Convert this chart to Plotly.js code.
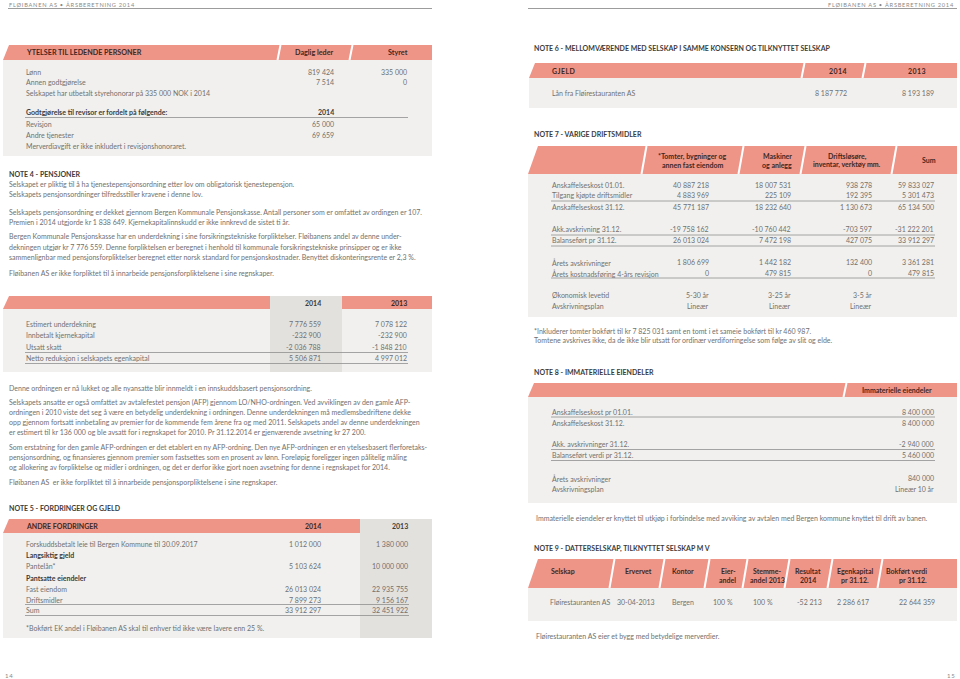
<!DOCTYPE html>
<html><head><meta charset="utf-8">
<script src="https://cdn.plot.ly/plotly-3.0.1.min.js"></script>
<style>html,body{margin:0;padding:0;background:#fff}#chart{width:960px;height:679px}</style>
</head><body><div id="chart"></div>
<script>
// ---------------- DATA ----------------
const pageHeader = "FLØIBANEN AS • ÅRSBERETNING 2014";

const ytelserHeader = ["YTELSER TIL LEDENDE PERSONER", "Daglig leder", "Styret"];
const ytelserRows = ["Lønn", "Annen godtgjørelse"];
const dagligLeder = [819424, 7514];
const styret = [335000, 0];
const ytelserNote = "Selskapet har utbetalt styrehonorar på 335 000 NOK i 2014";
const revisorHeader = ["Godtgjørelse til revisor er fordelt på følgende:", "2014"];
const revisorRows = ["Revisjon", "Andre tjenester"];
const revisor2014 = [65000, 69659];
const revisorNote = "Merverdiavgift er ikke inkludert i revisjonshonoraret.";

const note4Title = "NOTE 4 - PENSJONER";
const note4Lines = [
  ["Selskapet er pliktig til å ha tjenestepensjonsordning etter lov om obligatorisk tjenestepensjon.",
   "Selskapets pensjonsordninger tilfredsstiller kravene i denne lov."],
  ["Selskapets pensjonsordning er dekket gjennom Bergen Kommunale Pensjonskasse. Antall personer som er omfattet av ordingen er 107.",
   "Premien i 2014 utgjorde kr 1 838 649. Kjernekapitalinnskudd er ikke innkrevd de sistet ti år."],
  ["Bergen Kommunale Pensjonskasse har en underdekning i sine forsikringstekniske forpliktelser. Fløibanens andel av denne under-",
   "dekningen utgjør kr 7 776 559. Denne forpliktelsen er beregnet i henhold til kommunale forsikringstekniske prinsipper og er ikke",
   "sammenlignbar med pensjonsforpliktelser beregnet etter norsk standard for pensjonskostnader. Benyttet diskonteringsrente er 2,3 %."],
  ["Fløibanen AS er ikke forpliktet til å innarbeide pensjonsforpliktelsene i sine regnskaper."]
];

const pensjonYears = ["2014", "2013"];
const pensjonRows = ["Estimert underdekning", "Innbetalt kjernekapital", "Utsatt skatt", "Netto reduksjon i selskapets egenkapital"];
const pensjon2014 = [7776559, -232900, -2036788, 5506871];
const pensjon2013 = [7078122, -232900, -1848210, 4997012];

const afpLines = [
  ["Denne ordningen er nå lukket og alle nyansatte blir innmeldt i en innskuddsbasert pensjonsordning."],
  ["Selskapets ansatte er også omfattet av avtalefestet pensjon (AFP) gjennom LO/NHO-ordningen. Ved avviklingen av den gamle AFP-",
   "ordningen i 2010 viste det seg å være en betydelig underdekning i ordningen. Denne underdekningen må medlemsbedriftene dekke",
   "opp gjennom fortsatt innbetaling av premier for de kommende fem årene fra og med 2011. Selskapets andel av denne underdekningen",
   "er estimert til kr 136 000 og ble avsatt for i regnskapet for 2010. Pr 31.12.2014 er gjenværende avsetning kr 27 200."],
  ["Som erstatning for den gamle AFP-ordningen er det etablert en ny AFP-ordning. Den nye AFP-ordningen er en ytelsesbasert flerforetaks-",
   "pensjonsordning, og finansieres gjennom premier som fastsettes som en prosent av lønn. Foreløpig foreligger ingen pålitelig måling",
   "og allokering av forpliktelse og midler i ordningen, og det er derfor ikke gjort noen avsetning for denne i regnskapet for 2014."],
  ["Fløibanen AS  er ikke forpliktet til å innarbeide pensjonsporpliktelsene i sine regnskaper."]
];

const note5Title = "NOTE 5 - FORDRINGER OG GJELD";
const fordringHeader = ["ANDRE FORDRINGER", "2014", "2013"];
const fordringRows = ["Forskuddsbetalt leie til Bergen Kommune til 30.09.2017", "Langsiktig gjeld", "Pantelån*", "Pantsatte eiendeler", "Fast eiendom", "Driftsmidler", "Sum"];
const fordringBold = [false, true, false, true, false, false, false];
const fordring2014 = [1012000, null, 5103624, null, 26013024, 7899273, 33912297];
const fordring2013 = [1380000, null, 10000000, null, 22935755, 9156167, 32451922];
const fordringNote = "*Bokført EK andel i Fløibanen AS skal til enhver tid ikke være lavere enn 25 %.";

const note6Title = "NOTE 6 - MELLOMVÆRENDE MED SELSKAP I SAMME KONSERN OG TILKNYTTET SELSKAP";
const gjeldHeader = ["GJELD", "2014", "2013"];
const gjeldRows = ["Lån fra Fløirestauranten AS"];
const gjeld2014 = [8187772];
const gjeld2013 = [8193189];

const note7Title = "NOTE 7 - VARIGE DRIFTSMIDLER";
const driftsHeader = [["*Tomter, bygninger og", "annen fast eiendom"], ["Maskiner", "og anlegg"], ["Driftsløsøre,", "inventar, verktøy mm."], ["Sum"]];
const driftsRows = ["Anskaffelseskost 01.01.", "Tilgang kjøpte driftsmidler", "Anskaffelseskost 31.12.", "Akk.avskrivning 31.12.", "Balanseført pr 31.12.", "Årets avskrivninger", "Årets kostnadsføring 4-års revisjon"];
const tomter   = [40887218, 4883969, 45771187, -19758162, 26013024, 1806699, 0];
const maskiner = [18007531, 225109, 18232640, -10760442, 7472198, 1442182, 479815];
const inventar = [938278, 192395, 1130673, -703597, 427075, 132400, 0];
const driftsSum = [59833027, 5301473, 65134500, -31222201, 33912297, 3361281, 479815];
const levetidRows = ["Økonomisk levetid", "Avskrivningsplan"];
const levetid = ["5-30 år", "3-25 år", "3-5 år"];
const plan = ["Lineær", "Lineær", "Lineær"];
const note7Foot = ["*Inkluderer tomter bokført til kr 7 825 031 samt en tomt i et sameie bokført til kr 460 987.",
  "Tomtene avskrives ikke, da de ikke blir utsatt for ordinær verdiforringelse som følge av slit og elde."];

const note8Title = "NOTE 8 - IMMATERIELLE EIENDELER";
const immHeader = "Immaterielle eiendeler";
const immRows = ["Anskaffelseskost pr 01.01.", "Anskaffelseskost 31.12.", "Akk. avskrivninger 31.12.", "Balanseført verdi pr 31.12.", "Årets avskrivninger"];
const immValues = [8400000, 8400000, -2940000, 5460000, 840000];
const immPlanLabel = "Avskrivningsplan";
const immPlan = "Lineær 10 år";
const note8Foot = "Immaterielle eiendeler er knyttet til utkjøp i forbindelse med avviking av avtalen med Bergen kommune knyttet til drift av banen.";

const note9Title = "NOTE 9 - DATTERSELSKAP, TILKNYTTET SELSKAP M V";
const note9Header = [["Selskap"], ["Ervervet"], ["Kontor"], ["Eier-", "andel"], ["Stemme-", "andel 2013"], ["Resultat", "2014"], ["Egenkapital", "pr 31.12."], ["Bokført verdi", "pr 31.12."]];
const selskap = "Fløirestauranten AS";
const ervervet = "30-04-2013";
const kontor = "Bergen";
const eierandel = 100;
const stemmeandel = 100;
const resultat2014 = -52213;
const egenkapital = 2286617;
const bokfortVerdi = 22644359;
const note9Foot = "Fløirestauranten AS eier et bygg med betydelige merverdier.";
const pageNumbers = ["14", "15"];

// ---------------- RENDERING ----------------
const FONT = 'Lato, "Open Sans", sans-serif';
const C_TEXT = '#707070', C_DARK = '#3c3c3c', C_HEAD = '#3e2824';
const SALMON = '#EF9587', BODY = '#F1F0EE', COLG = '#E3E1DE', LINE = '#8f8f8f';
const FS = 7.0;

const shapes = [], ann = [];
function fmt(n) {
  if (n === null || n === undefined) return '';
  const s = Math.abs(n).toString().replace(/\B(?=(\d{3})+(?!\d))/g, ' ');
  return (n < 0 ? '-' : '') + s;
}
function t(x, y, text, o) {
  o = o || {};
  ann.push({x: x, y: y, xref: 'x', yref: 'y', text: o.b ? '<b>' + text + '</b>' : text, showarrow: false,
    xanchor: o.a || 'left', yanchor: 'middle', align: o.a || 'left', borderpad: 0,
    font: {family: FONT, size: o.s || FS, color: o.c || C_TEXT}});
}
function spaced(s, sp) { return s.split('').join(sp || '\u2009'); }
function rect(x0, y0, x1, y1, c) {
  shapes.push({type: 'rect', xref: 'x', yref: 'y', x0: x0, y0: y0, x1: x1, y1: y1, fillcolor: c, line: {width: 0}, layer: 'below'});
}
function band(x0, x1, y0, y1, sl) {
  shapes.push({type: 'path', xref: 'x', yref: 'y', path: `M ${x0} ${y1} L ${x0 + sl} ${y0} L ${x1} ${y0} L ${x1} ${y1} Z`, fillcolor: SALMON, line: {width: 0}, layer: 'below'});
}
function sep(xm, y0, y1, sl) {
  shapes.push({type: 'line', xref: 'x', yref: 'y', x0: xm - sl / 2, y0: y1, x1: xm + sl / 2, y1: y0, line: {color: '#ffffff', width: 2}, layer: 'below'});
}
function hline(x0, x1, y) {
  shapes.push({type: 'line', xref: 'x', yref: 'y', x0: x0, y0: y, x1: x1, y1: y, line: {color: LINE, width: 0.8}, layer: 'below'});
}

// page headers
t(8, 4, spaced(pageHeader), {s: 5.7, c: '#8a8a8a'});
t(955, 4, spaced(pageHeader), {s: 5.7, c: '#8a8a8a', a: 'right'});
shapes.push({type: 'line', xref: 'x', yref: 'y', x0: 8, y0: 8.5, x1: 432, y1: 8.5, line: {color: '#9c9c9c', width: 1}});
shapes.push({type: 'line', xref: 'x', yref: 'y', x0: 528, y0: 8.5, x1: 957, y1: 8.5, line: {color: '#9c9c9c', width: 1}});

// ---- Ytelser table
band(3, 432, 45, 60, 6);
sep(279, 45, 60, 3); sep(351, 45, 60, 3);
rect(3, 60, 432, 156, BODY);
t(25, 52.5, ytelserHeader[0], {b: 1, c: C_HEAD, s: 7.2});
t(314, 52.5, ytelserHeader[1], {b: 1, c: C_HEAD, s: 7.2, a: 'center'});
t(398, 52.5, ytelserHeader[2], {b: 1, c: C_HEAD, s: 7.2, a: 'center'});
const yRowsY = [72, 82];
ytelserRows.forEach((r, i) => {
  t(25, yRowsY[i], r);
  t(335, yRowsY[i], fmt(dagligLeder[i]), {a: 'right'});
  t(408, yRowsY[i], fmt(styret[i]), {a: 'right'});
});
t(25, 93, ytelserNote);
t(25, 112, revisorHeader[0], {b: 1, c: C_DARK});
t(335, 112, revisorHeader[1], {b: 1, c: C_DARK, a: 'right'});
hline(25, 408, 117.5);
const revY = [124, 135];
revisorRows.forEach((r, i) => { t(25, revY[i], r); t(335, revY[i], fmt(revisor2014[i]), {a: 'right'}); });
t(25, 146, revisorNote);

// ---- Note 4
t(8, 174, note4Title, {b: 1, c: C_DARK});
const n4Y = [[184, 194], [212, 222], [236, 246.5, 257], [273]];
note4Lines.forEach((p, i) => p.forEach((l, j) => t(8, n4Y[i][j], l)));

// ---- Pension table
band(3, 270, 296, 309, 6);
rect(342, 296, 432, 309, SALMON);
rect(3, 309, 432, 372, BODY);
rect(270, 296, 342, 372, COLG);
t(322, 302.5, pensjonYears[0], {b: 1, c: C_DARK, a: 'right'});
t(408, 302.5, pensjonYears[1], {b: 1, c: C_HEAD, a: 'right'});
const pY = [324, 335, 346.5, 358];
pensjonRows.forEach((r, i) => {
  t(25, pY[i], r);
  t(322, pY[i], fmt(pensjon2014[i]), {a: 'right'});
  t(408, pY[i], fmt(pensjon2013[i]), {a: 'right'});
});
hline(25, 408, 352.5); hline(25, 408, 363.5);

const afpY = [[388], [402, 412, 422, 432], [447, 457, 467], [482]];
afpLines.forEach((p, i) => p.forEach((l, j) => t(8, afpY[i][j], l)));

// ---- Note 5
t(8, 508, note5Title, {b: 1, c: C_DARK});
band(3, 360, 519, 533, 6);
rect(3, 533, 360, 638, BODY);
rect(360, 519, 432, 638, COLG);
t(25, 526, fordringHeader[0], {b: 1, c: C_HEAD});
t(322, 526, fordringHeader[1], {b: 1, c: C_HEAD, a: 'right'});
t(409, 526, fordringHeader[2], {b: 1, c: C_DARK, a: 'right'});
const fY = [544, 555, 566, 578, 589, 599.5, 610];
fordringRows.forEach((r, i) => {
  t(25, fY[i], r, fordringBold[i] ? {b: 1, c: C_DARK} : {});
  t(322, fY[i], fmt(fordring2014[i]), {a: 'right'});
  t(409, fY[i], fmt(fordring2013[i]), {a: 'right'});
});
hline(25, 409, 604.5); hline(25, 409, 615.5);
t(25, 628, fordringNote);

// ---- Note 6
t(533, 48, note6Title, {b: 1, c: C_DARK});
band(529, 957, 63, 78, 6);
sep(803, 63, 78, 3); sep(864, 63, 78, 3);
rect(529, 78, 957, 108, BODY);
t(551, 70.5, spaced(gjeldHeader[0], '\u200A'), {b: 1, c: C_HEAD});
t(848, 70.5, spaced(gjeldHeader[1], '\u200A'), {b: 1, c: C_HEAD, a: 'right'});
t(927, 70.5, spaced(gjeldHeader[2], '\u200A'), {b: 1, c: C_HEAD, a: 'right'});
gjeldRows.forEach((r, i) => {
  t(551, 93, r);
  t(848, 93, fmt(gjeld2014[i]), {a: 'right'});
  t(935, 93, fmt(gjeld2013[i]), {a: 'right'});
});

// ---- Note 7
t(533, 134, note7Title, {b: 1, c: C_DARK});
band(528, 957, 146, 174, 10);
[644, 741, 803, 894].forEach(x => sep(x, 146, 174, 5));
rect(528, 174, 957, 317, BODY);
const dhX = [692, 777, 847, 929];
driftsHeader.forEach((h, i) => {
  if (h.length === 2) { t(dhX[i], 156, h[0], {b: 1, c: C_HEAD, a: 'center'}); t(dhX[i], 164.5, h[1], {b: 1, c: C_HEAD, a: 'center'}); }
  else t(dhX[i], 160, h[0], {b: 1, c: C_HEAD, a: 'center'});
});
const dY = [185, 195, 207, 229, 240, 262, 273];
const dCols = [tomter, maskiner, inventar, driftsSum];
const dRight = [710, 792, 873, 935];
driftsRows.forEach((r, i) => {
  t(551, dY[i], r);
  dCols.forEach((c, k) => t(dRight[k], dY[i], fmt(c[i]), {a: 'right'}));
});
[201, 235, 246, 278].forEach(y => hline(551, 935, y));
t(551, 295, levetidRows[0]); t(551, 306, levetidRows[1]);
levetid.forEach((v, k) => t(dRight[k], 295, v, {a: 'right'}));
plan.forEach((v, k) => t(dRight[k], 306, v, {a: 'right'}));
t(533, 331, note7Foot[0]); t(533, 340.5, note7Foot[1]);

// ---- Note 8
t(533, 372, note8Title, {b: 1, c: C_DARK});
band(528, 957, 383, 397, 6);
sep(845, 383, 397, 3);
rect(528, 397, 957, 503, BODY);
t(897, 390, immHeader, {b: 1, c: C_HEAD, a: 'center'});
const iY = [412, 422.5, 444, 455, 478];
immRows.forEach((r, i) => { t(551, iY[i], r); t(935, iY[i], fmt(immValues[i]), {a: 'right'}); });
t(551, 489, immPlanLabel); t(935, 489, immPlan, {a: 'right'});
[417, 449.5, 460.5].forEach(y => hline(551, 935, y));
t(535, 518, note8Foot);

// ---- Note 9
t(533, 548, note9Title, {b: 1, c: C_DARK});
band(528, 957, 559, 588, 10);
[612, 662, 707, 745, 787, 830, 880].forEach(x => sep(x, 559, 588, 5));
rect(528, 588, 957, 621, BODY);
const hX = [563, 638, 683, 737, 767, 808, 855, 928];
const hA = ['center', 'center', 'center', 'right', 'center', 'center', 'center', 'right'];
note9Header.forEach((h, i) => {
  if (h.length === 2) { t(hX[i], 571, h[0], {b: 1, c: C_HEAD, a: hA[i]}); t(hX[i], 580, h[1], {b: 1, c: C_HEAD, a: hA[i]}); }
  else t(hX[i], 571, h[0], {b: 1, c: C_HEAD, a: hA[i]});
});
const rowVals = [selskap, ervervet, kontor, eierandel + ' %', stemmeandel + ' %', fmt(resultat2014), fmt(egenkapital), fmt(bokfortVerdi)];
const rX = [580, 636, 683, 723, 763, 809, 853, 917];
rowVals.forEach((v, i) => t(rX[i], 602, v, {a: 'center'}));
t(535, 636, note9Foot);

// page numbers
t(4, 675, spaced(pageNumbers[0]), {s: 6, c: '#888'});
t(956, 675, spaced(pageNumbers[1]), {s: 6, c: '#888', a: 'right'});

Plotly.newPlot('chart', [{x: [], y: [], type: 'scatter', mode: 'markers', hoverinfo: 'skip'}], {
  width: 960, height: 679,
  margin: {l: 0, r: 0, t: 0, b: 0, pad: 0},
  paper_bgcolor: '#ffffff', plot_bgcolor: '#ffffff',
  showlegend: false,
  xaxis: {range: [0, 960], visible: false, fixedrange: true},
  yaxis: {range: [679, 0], visible: false, fixedrange: true},
  shapes: shapes,
  annotations: ann
}, {staticPlot: true, displayModeBar: false});
</script>
</body></html>
